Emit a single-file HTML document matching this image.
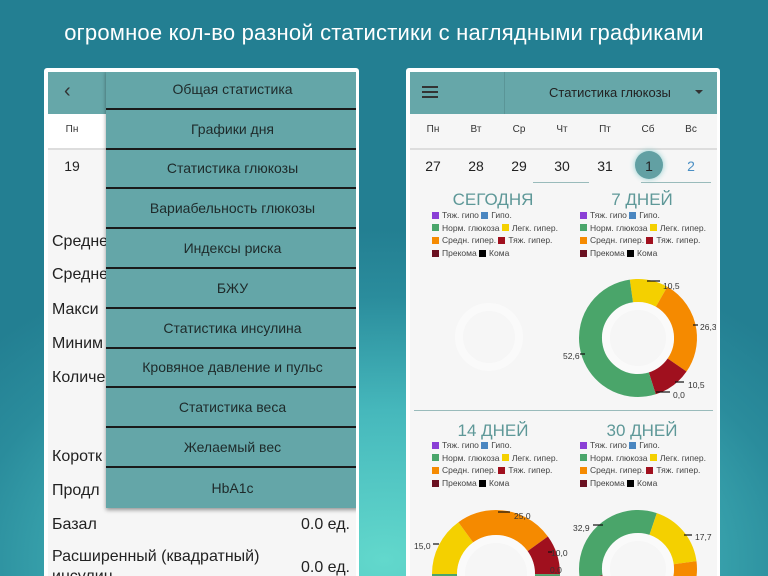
<!DOCTYPE html>
<html><head><meta charset="utf-8"><style>
*{margin:0;padding:0;box-sizing:border-box}
html,body{overflow:hidden}
body{width:768px;height:576px;overflow:hidden;position:relative;font-family:"Liberation Sans","DejaVu Sans",sans-serif;
background:radial-gradient(ellipse 520px 330px at 384px 560px,#62d8cc 0%,#46b8bc 45%,#2a8c9c 80%,#237f92 100%);}
.title{position:absolute;top:20px;left:0;width:768px;text-align:center;color:#fff;font-size:22px;letter-spacing:0.2px}
.ph{position:absolute;top:68px;height:508px;background:#fff;border-radius:3px 3px 0 0;overflow:hidden}
.scr{position:absolute;left:4px;top:4px;right:3px;bottom:0;background:#f6f6f6;overflow:hidden}
.hdr{position:absolute;left:0;top:0;right:0;height:42px;background:#66a7a9}
.menu{position:absolute;left:58px;top:-2px;width:253px;background:#64a6a8;box-shadow:0 2px 4px rgba(0,0,0,.4)}
.mi{height:39.8px;border-bottom:2px solid #1a1a1a;display:flex;align-items:center;justify-content:center;font-size:14px;color:#1e2a2a}
.mi:last-child{border-bottom:none}
.lab{position:absolute;left:4px;font-size:16px;color:#222}
.val{position:absolute;right:6px;font-size:16px;color:#222}
.wd{position:absolute;top:52px;font-size:10px;color:#333;width:30px;text-align:center}
.dn{position:absolute;top:86px;font-size:14px;color:#222;width:30px;text-align:center}
.ht{position:absolute;font-size:17px;color:#5e9898;width:150px;text-align:center}
.lg{position:absolute;font-size:8.5px;color:#444;line-height:12.7px;white-space:nowrap}
.lg i{display:inline-block;width:7px;height:7px;margin:0 3px 0 0;vertical-align:-0.5px}
</style></head><body>
<div class="title">огромное кол-во разной статистики с наглядными графиками</div>

<div class="ph" style="left:44px;width:315px">
 <div class="scr">
  <div class="hdr"><div style="position:absolute;left:16px;top:8px;color:#333;font-size:20px">&lsaquo;</div></div>
  <div style="position:absolute;left:0;right:0;top:42px;height:34px;background:#fff"></div>
  <div style="position:absolute;left:0;right:0;top:76px;height:2px;background:#ddd"></div>
  <div class="wd" style="left:9px">Пн</div>
  <div class="dn" style="left:9px">19</div>
  <div class="lab" style="top:161px">Средне</div>
  <div class="lab" style="top:194px">Средне</div>
  <div class="lab" style="top:229px">Макси</div>
  <div class="lab" style="top:263px">Миним</div>
  <div class="lab" style="top:297px">Количе</div>
  <div class="lab" style="top:376px">Коротк</div>
  <div class="lab" style="top:410px">Продл</div>
  <div class="lab" style="top:444px">Базал</div><div class="val" style="top:444px">0.0 ед.</div>
  <div class="lab" style="top:476px">Расширенный (квадратный)</div><div class="val" style="top:487px">0.0 ед.</div>
  <div class="lab" style="top:496px">инсулин</div>
  <div class="menu">
   <div class="mi">Общая статистика</div><div class="mi">Графики дня</div><div class="mi">Статистика глюкозы</div>
   <div class="mi">Вариабельность глюкозы</div><div class="mi">Индексы риска</div><div class="mi">БЖУ</div>
   <div class="mi">Статистика инсулина</div><div class="mi">Кровяное давление и пульс</div><div class="mi">Статистика веса</div>
   <div class="mi">Желаемый вес</div><div class="mi">HbA1c</div>
  </div>
 </div>
</div>

<div class="ph" style="left:406px;width:314px">
 <div class="scr">
  <div class="hdr"><div style="position:absolute;left:94px;top:0;width:1px;height:42px;background:#5a9597"></div>
   <div style="position:absolute;left:12px;top:14px;width:16px;height:2px;background:#333;box-shadow:0 5px 0 #333,0 10px 0 #333"></div>
   <div style="position:absolute;left:139px;top:13px;font-size:13px;color:#222">Статистика глюкозы</div>
   <div style="position:absolute;left:285px;top:18px;border-left:4px solid transparent;border-right:4px solid transparent;border-top:4px solid #333"></div>
  </div>
  <div style="position:absolute;left:0;right:0;top:76px;height:2px;background:#ddd"></div>
  <div class="wd" style="left:8px">Пн</div><div class="wd" style="left:51px">Вт</div><div class="wd" style="left:94px">Ср</div><div class="wd" style="left:137px">Чт</div><div class="wd" style="left:180px">Пт</div><div class="wd" style="left:223px">Сб</div><div class="wd" style="left:266px">Вс</div>
  <div class="dn" style="left:8px">27</div><div class="dn" style="left:51px">28</div><div class="dn" style="left:94px">29</div><div class="dn" style="left:137px">30</div><div class="dn" style="left:180px">31</div>
  <div style="position:absolute;left:225px;top:79px;width:28px;height:28px;border-radius:50%;background:#62a0a3;box-shadow:0 0 6px #8cc"></div>
  <div class="dn" style="left:224px;color:#222">1</div><div class="dn" style="left:266px;color:#4a8fc4">2</div>
  <div style="position:absolute;left:123px;top:110px;width:56px;height:1px;background:#9bb"></div>
  <div style="position:absolute;left:231px;top:110px;width:70px;height:1px;background:#9bb"></div>
  <div class="ht" style="left:8px;top:118px">СЕГОДНЯ</div><div class="ht" style="left:157px;top:118px">7 ДНЕЙ</div>
  <div style="position:absolute;left:4px;right:4px;top:338px;height:1px;background:#9bb"></div>
  <div class="ht" style="left:8px;top:349px">14 ДНЕЙ</div><div class="ht" style="left:157px;top:349px">30 ДНЕЙ</div>
 </div>
 <div class="lg" style="left:26px;top:141px"><i style="background:#8a3fd6"></i>Тяж. гипо <i style="background:#4a86c0"></i>Гипо.<br><i style="background:#4aa56a"></i>Норм. глюкоза <i style="background:#f4d000"></i>Легк. гипер.<br><i style="background:#f58a00"></i>Средн. гипер. <i style="background:#a0101e"></i>Тяж. гипер.<br><i style="background:#6a1020"></i>Прекома <i style="background:#000"></i>Кома</div>
 <div class="lg" style="left:174px;top:141px"><i style="background:#8a3fd6"></i>Тяж. гипо <i style="background:#4a86c0"></i>Гипо.<br><i style="background:#4aa56a"></i>Норм. глюкоза <i style="background:#f4d000"></i>Легк. гипер.<br><i style="background:#f58a00"></i>Средн. гипер. <i style="background:#a0101e"></i>Тяж. гипер.<br><i style="background:#6a1020"></i>Прекома <i style="background:#000"></i>Кома</div>
 <div class="lg" style="left:26px;top:371px"><i style="background:#8a3fd6"></i>Тяж. гипо <i style="background:#4a86c0"></i>Гипо.<br><i style="background:#4aa56a"></i>Норм. глюкоза <i style="background:#f4d000"></i>Легк. гипер.<br><i style="background:#f58a00"></i>Средн. гипер. <i style="background:#a0101e"></i>Тяж. гипер.<br><i style="background:#6a1020"></i>Прекома <i style="background:#000"></i>Кома</div>
 <div class="lg" style="left:174px;top:371px"><i style="background:#8a3fd6"></i>Тяж. гипо <i style="background:#4a86c0"></i>Гипо.<br><i style="background:#4aa56a"></i>Норм. глюкоза <i style="background:#f4d000"></i>Легк. гипер.<br><i style="background:#f58a00"></i>Средн. гипер. <i style="background:#a0101e"></i>Тяж. гипер.<br><i style="background:#6a1020"></i>Прекома <i style="background:#000"></i>Кома</div>
</div>

<svg width="768" height="576" style="position:absolute;left:0;top:0">
 <defs><clipPath id="c"><rect x="410" y="72" width="306" height="504"/></clipPath></defs>
 <g clip-path="url(#c)">
 <circle cx="489" cy="337" r="30" fill="none" stroke="#fff" stroke-width="8" opacity=".45"/>
 <g transform="rotate(-98 638 338)" fill="none" stroke-width="23">
  <circle cx="638" cy="338" r="47.5" stroke="#f4d000" stroke-dasharray="31.3 400"/>
  <circle cx="638" cy="338" r="47.5" stroke="#f58a00" stroke-dasharray="78.5 400" stroke-dashoffset="-31.3"/>
  <circle cx="638" cy="338" r="47.5" stroke="#a0101e" stroke-dasharray="31.3 400" stroke-dashoffset="-109.8"/>
  <circle cx="638" cy="338" r="47.5" stroke="#4aa56a" stroke-dasharray="157.4 400" stroke-dashoffset="-141.1"/>
 </g>
 <circle cx="638" cy="338" r="32" fill="none" stroke="#fff" stroke-width="8" opacity=".45"/>
 <!-- 14 days r mid 51.5 C=323.6 -->
 <g transform="rotate(-180 496 574)" fill="none" stroke-width="25">
  <circle cx="496" cy="574" r="51.5" stroke="#f4d000" stroke-dasharray="48.5 400"/>
  <circle cx="496" cy="574" r="51.5" stroke="#f58a00" stroke-dasharray="80.9 400" stroke-dashoffset="-48.5"/>
  <circle cx="496" cy="574" r="51.5" stroke="#a0101e" stroke-dasharray="32.4 400" stroke-dashoffset="-129.4"/>
  <circle cx="496" cy="574" r="51.5" stroke="#4aa56a" stroke-dasharray="161.8 400" stroke-dashoffset="-161.8"/>
 </g>
 <circle cx="496" cy="574" r="35" fill="none" stroke="#fff" stroke-width="8" opacity=".45"/>
 <g transform="rotate(-190 638 569)" fill="none" stroke-width="23">
  <circle cx="638" cy="569" r="47.5" stroke="#4aa56a" stroke-dasharray="98.2 400"/>
  <circle cx="638" cy="569" r="47.5" stroke="#f4d000" stroke-dasharray="52.8 400" stroke-dashoffset="-98.2"/>
  <circle cx="638" cy="569" r="47.5" stroke="#f58a00" stroke-dasharray="90 400" stroke-dashoffset="-151"/>
  <circle cx="638" cy="569" r="47.5" stroke="#a0101e" stroke-dasharray="57.5 400" stroke-dashoffset="-241"/>
 </g>
 <circle cx="638" cy="569" r="32" fill="none" stroke="#fff" stroke-width="8" opacity=".45"/>
 <g stroke="#111" stroke-width="1.2">
  <line x1="647" y1="281" x2="660" y2="281"/><line x1="693" y1="325" x2="698" y2="325"/>
  <line x1="580" y1="354" x2="585" y2="354"/><line x1="675" y1="382" x2="684" y2="382"/><line x1="656" y1="392" x2="670" y2="392"/>
  <line x1="498" y1="512" x2="510" y2="512"/><line x1="433" y1="544" x2="439" y2="544"/><line x1="548" y1="552" x2="552" y2="552"/>
  <line x1="593" y1="525" x2="603" y2="525"/><line x1="684" y1="535" x2="692" y2="535"/>
 </g>
 <g font-family="Liberation Sans,sans-serif" font-size="8.5" fill="#333">
  <text x="663" y="289">10,5</text><text x="700" y="330">26,3</text><text x="563" y="359">52,6</text>
  <text x="688" y="388">10,5</text><text x="673" y="398">0,0</text>
  <text x="514" y="519">25,0</text><text x="414" y="549">15,0</text><text x="551" y="556">10,0</text><text x="550" y="573">0,0</text>
  <text x="573" y="531">32,9</text><text x="695" y="540">17,7</text>
 </g>
 </g>
</svg>
</body></html>
